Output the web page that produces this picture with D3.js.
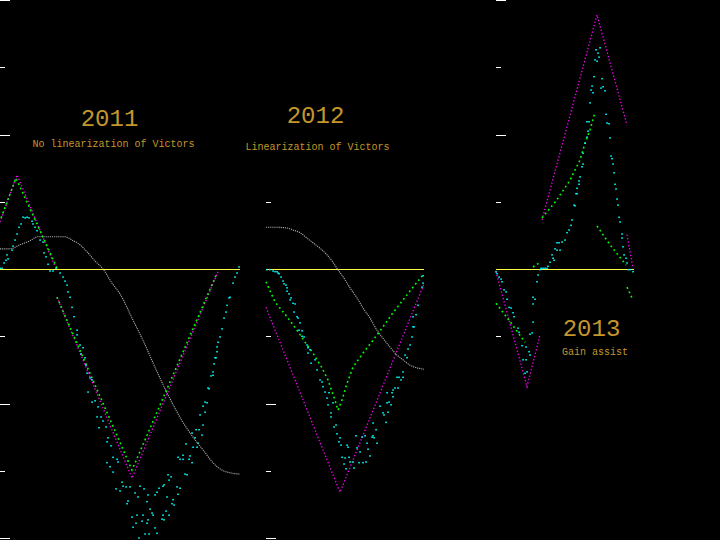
<!DOCTYPE html>
<html><head><meta charset="utf-8">
<script src="https://cdn.jsdelivr.net/npm/d3@7"></script>
<style>html,body{margin:0;padding:0;background:#000;}svg{display:block;background:#000}</style>
</head><body>
<svg id="chart" width="720" height="540"></svg>
<script>
// ---------- DATA ----------
const years = ["2011", "2012", "2013"];
const subtitles = ["No linearization of Victors", "Linearization of Victors", "Gain assist"];
const xMax = [12, 7.9, 6.9];                       // time span of each run
const tickValues = [[4,3,2,1,-1,-2,-3,-4], [1,-1,-2,-3,-4], [4,3,2,1,-1]];

// magenta reference (segments)
const magenta2011 = [[[0,0.70],[0.85,1.40],[2.75,0.04]], [[2.85,-0.42],[6.6,-3.11],[10.9,-0.04]]];
const magenta2012 = [[[0,-0.57],[3.7,-3.32],[7.9,-0.22]]];
const magenta2013 = [[[0,-0.04],[1.55,-1.75],[2.2,-0.98]], [[2.3,0.73],[5.05,3.78],[6.55,2.14]], [[6.55,0.51],[6.85,0.01]]];

// green command (segments)
const green2011 = [[[0.05,0.76],[0.8,1.35],[1.85,0.67],[2.85,0.01]], [[2.85,-0.42],[6.6,-2.99],[10.85,-0.06]]];
const green2012 = [[[0,-0.19],[0.45,-0.49],[1.05,-0.71],[1.55,-0.91],[2.05,-1.13],[2.35,-1.25],[2.8,-1.47],[3.1,-1.65],[3.45,-1.95],[3.6,-2.10],[3.8,-1.95],[4.05,-1.70],[4.35,-1.46],[4.85,-1.25],[5.35,-1.06],[5.85,-0.86],[6.35,-0.65],[6.85,-0.46],[7.35,-0.27],[7.9,-0.07]]];
const green2013 = [[[0,-0.51],[0.75,-0.80],[1.45,-1.09]], [[1.85,0.03],[2.2,0.10]], [[2.3,0.76],[3.0,1.01],[3.7,1.32],[4.2,1.62],[4.45,1.87],[4.7,2.07],[4.95,2.33]], [[5.05,0.64],[5.7,0.36],[6.5,0.06]], [[6.55,-0.27],[6.8,-0.43]]];

// gray smooth curve
const gray2011 = [[0,0.30],[0.5,0.30],[1.0,0.36],[1.5,0.42],[1.9,0.48],[3.25,0.48],[3.6,0.43],[4.0,0.36],[4.4,0.24],[4.75,0.12],[5.15,0],[5.6,-0.21],[6.0,-0.37],[6.65,-0.76],[7.15,-1.06],[7.75,-1.46],[8.4,-1.87],[9.15,-2.28],[9.65,-2.50],[10.15,-2.69],[10.65,-2.88],[11.1,-2.99],[11.5,-3.03],[12.0,-3.05]];
const gray2012 = [[0,0.62],[0.55,0.62],[1.05,0.61],[1.35,0.58],[1.7,0.54],[2.05,0.46],[2.35,0.39],[2.7,0.31],[3.05,0.21],[3.35,0.10],[3.55,0.01],[3.95,-0.16],[4.2,-0.28],[4.55,-0.43],[4.85,-0.58],[5.2,-0.73],[5.55,-0.91],[5.85,-1.03],[6.2,-1.16],[6.55,-1.28],[6.85,-1.35],[7.2,-1.43],[7.55,-1.47],[7.9,-1.49]];
const gray2013 = [];

// cyan measured samples (scatter)
const cyan2011 = [[0,0.01],[0.1,0.01],[0.2,0.09],[0.3,0.13],[0.35,0.21],[0.4,0.15],[0.6,0.28],[0.65,0.34],[0.75,0.43],[0.85,0.52],[0.95,0.62],[1.05,0.67],[1.15,0.77],[1.25,0.76],[1.35,0.77],[1.45,0.76],[1.6,0.71],[1.65,0.67],[1.75,0.62],[1.85,0.57],[2.0,0.43],[2.15,0.40],[2.2,0.24],[2.3,0.18],[2.4,0.07],[2.5,-0.03],[2.65,-0.03],[2.8,0.01],[3.0,-0.06],[3.15,-0.12],[3.25,-0.18],[3.35,-0.24],[3.4,-0.34],[3.5,-0.42],[3.6,-0.57],[3.7,-0.71],[3.85,-0.91],[3.85,-0.98],[4.0,-1.13],[4.05,-1.26],[4.15,-1.17],[4.25,-1.32],[4.3,-1.43],[4.35,-1.55],[4.5,-1.62],[4.6,-1.65],[4.4,-1.83],[4.75,-1.96],[4.6,-1.98],[4.9,-2.05],[5.05,-2.20],[4.85,-2.20],[5.15,-2.26],[4.95,-2.36],[5.3,-2.35],[5.4,-2.51],[5.35,-2.57],[5.55,-2.63],[5.65,-2.80],[5.35,-2.88],[5.5,-2.94],[5.65,-3.02],[5.85,-2.83],[5.9,-2.87],[6.1,-3.17],[6.15,-3.23],[6.3,-3.24],[5.8,-3.27],[6.0,-3.30],[6.5,-3.24],[6.4,-3.45],[6.35,-3.49],[6.6,-3.69],[6.75,-3.33],[6.9,-3.39],[7.0,-3.23],[7.2,-3.27],[7.4,-3.36],[7.75,-3.36],[7.85,-3.32],[7.95,-3.26],[8.15,-3.23],[8.2,-3.21],[8.35,-3.39],[8.45,-3.14],[8.4,-3.06],[8.55,-3.09],[8.65,-3.43],[8.6,-3.49],[8.7,-3.51],[8.85,-3.24],[9.0,-3.26],[8.9,-3.35],[8.9,-2.80],[9.0,-2.83],[9.15,-2.77],[9.15,-2.83],[9.3,-2.60],[9.25,-3.05],[9.35,-3.06],[9.5,-2.78],[9.45,-2.83],[9.6,-2.88],[7.35,-3.46],[7.5,-3.57],[7.6,-3.63],[7.65,-3.66],[7.4,-3.73],[7.15,-3.66],[6.85,-3.66],[7.1,-3.75],[6.8,-3.78],[6.65,-3.84],[7.35,-3.78],[7.75,-3.85],[7.85,-3.93],[7.45,-3.94],[7.25,-3.94],[6.95,-4.00],[8.15,-3.66],[8.3,-3.60],[8.45,-3.66],[8.2,-3.73],[8.1,-3.72],[9.6,-2.44],[9.75,-2.51],[9.8,-2.39],[9.95,-2.39],[10.1,-2.47],[9.65,-2.65],[9.85,-2.65],[9.9,-2.59],[10.0,-2.17],[10.15,-2.32],[10.25,-2.13],[10.15,-2.04],[10.25,-1.98],[10.35,-1.99],[10.4,-1.77],[10.45,-1.78],[10.55,-1.59],[10.65,-1.58],[10.65,-1.53],[10.7,-1.41],[10.75,-1.32],[10.8,-1.32],[10.85,-1.23],[10.85,-1.16],[10.9,-1.09],[11.0,-1.01],[11.1,-0.89],[11.2,-0.73],[11.3,-0.64],[11.35,-0.54],[11.45,-0.43],[11.5,-0.42],[11.65,-0.21],[11.75,-0.12],[11.85,-0.06],[11.95,0.03]];
const cyan2012 = [[0.05,-0.01],[0.2,-0.01],[0.35,-0.03],[0.45,-0.04],[0.55,-0.04],[0.6,-0.06],[0.65,-0.07],[0.75,-0.12],[0.85,-0.18],[0.9,-0.22],[1.0,-0.24],[1.05,-0.28],[1.05,-0.33],[1.15,-0.37],[1.25,-0.43],[1.2,-0.46],[1.35,-0.51],[1.45,-0.52],[1.4,-0.64],[1.55,-0.71],[1.6,-0.73],[1.7,-0.80],[1.65,-0.91],[1.8,-0.92],[1.8,-1.00],[1.9,-1.01],[2.05,-1.13],[2.1,-1.17],[2.2,-1.20],[2.1,-1.25],[2.25,-1.40],[2.45,-1.35],[2.55,-1.50],[2.7,-1.65],[2.8,-1.68],[2.85,-1.75],[2.95,-1.83],[3.05,-1.92],[3.15,-1.84],[3.1,-2.02],[3.35,-1.99],[3.25,-2.14],[3.25,-2.20],[3.4,-2.35],[3.5,-2.32],[3.55,-2.45],[3.65,-2.57],[3.75,-2.62],[3.7,-2.51],[4.05,-2.62],[4.1,-2.65],[3.8,-2.80],[3.95,-2.81],[4.15,-2.80],[3.9,-2.90],[4.0,-2.97],[4.2,-2.87],[4.35,-2.87],[4.4,-2.96],[4.5,-2.48],[4.55,-2.66],[4.7,-2.72],[4.65,-2.88],[4.85,-2.88],[5.0,-2.87],[4.8,-2.50],[4.95,-2.48],[5.1,-2.68],[5.2,-2.78],[5.05,-2.59],[5.3,-2.50],[5.35,-2.29],[5.35,-2.48],[5.5,-2.39],[5.4,-2.51],[5.55,-2.59],[5.7,-2.04],[5.85,-2.14],[5.9,-2.17],[6.0,-2.28],[6.1,-2.13],[6.05,-1.99],[6.15,-1.98],[6.25,-2.02],[6.05,-1.84],[6.3,-1.84],[6.35,-1.80],[6.45,-1.77],[6.6,-1.77],[6.35,-1.90],[6.55,-1.61],[6.65,-1.61],[6.85,-1.61],[6.75,-1.65],[6.85,-1.53],[6.95,-1.28],[7.05,-1.32],[7.2,-1.13],[7.1,-1.19],[7.3,-1.01],[7.35,-0.86],[7.4,-0.86],[7.35,-0.71],[7.5,-0.68],[7.6,-0.54],[7.8,-0.27],[7.85,-0.21],[7.85,-0.10]];
const cyan2013 = [[0,-0.04],[0.05,-0.07],[0.15,-0.12],[0.25,-0.15],[0.3,-0.19],[0.4,-0.31],[0.5,-0.34],[0.55,-0.45],[0.65,-0.57],[0.75,-0.58],[0.85,-0.65],[0.9,-0.71],[1.1,-0.88],[1.15,-0.94],[1.3,-1.14],[1.5,-1.16],[1.65,-1.23],[1.7,-1.28],[1.35,-1.35],[1.5,-1.35],[1.45,-1.55],[1.55,-1.53],[1.7,-0.97],[1.8,-0.95],[1.85,-0.79],[1.85,-0.52],[1.85,-0.42],[1.95,-0.45],[2.05,-0.19],[2.1,-0.09],[2.2,-0.01],[2.25,0.01],[2.35,0.01],[2.45,0.01],[2.55,0.01],[2.6,0.04],[2.7,0.10],[2.8,0.21],[2.85,0.16],[2.9,0.13],[2.95,0.30],[3.05,0.28],[3.05,0.39],[3.15,0.39],[3.2,0.28],[3.3,0.40],[3.45,0.43],[3.55,0.54],[3.65,0.58],[3.75,0.65],[3.8,0.73],[3.9,0.95],[3.95,0.94],[4.0,1.12],[4.05,1.12],[4.05,1.20],[4.15,1.26],[4.15,1.31],[4.2,1.37],[4.3,1.52],[4.35,1.56],[4.35,1.72],[4.45,1.87],[4.55,1.96],[4.6,2.05],[4.55,2.19],[4.65,2.19],[4.7,2.47],[4.75,2.66],[4.85,2.62],[4.8,2.72],[4.9,2.86],[4.95,3.11],[5.05,3.09],[5.0,3.26],[5.1,3.21],[5.15,3.15],[5.2,3.29],[5.25,2.69],[5.3,2.83],[5.35,2.71],[5.45,2.65],[5.5,2.30],[5.55,2.17],[5.65,2.16],[5.7,1.95],[5.75,1.68],[5.8,1.64],[5.85,1.56],[5.9,1.43],[5.95,1.26],[6.0,1.19],[6.05,1.04],[6.1,0.95],[6.15,0.77],[6.2,0.70],[6.3,0.52],[6.3,0.46],[6.35,0.33],[6.4,0.21],[6.5,0.16],[6.55,0.09],[6.6,-0.01],[6.7,-0.01],[6.85,-0.04]];

const magentaSeries = [magenta2011, magenta2012, magenta2013];
const greenSeries = [green2011, green2012, green2013];
const graySeries = [gray2011, gray2012, gray2013];
const cyanSeries = [cyan2011, cyan2012, cyan2013];

// ---------- LAYOUT ----------
const W = 720, H = 540;
const panelRanges = [[0, 240], [266, 424], [496, 634]];
const titlePos = [[109.5, 126, 113.5, 146.5], [315.5, 123, 317.5, 150], [591.5, 336, 595, 355]];
const textColor = "#c4962c";

const svg = d3.select("#chart");
svg.append("rect").attr("width", W).attr("height", H).attr("fill", "#000");

const y = d3.scaleLinear().domain([-4, 4]).range([538, 0]);

panelRanges.forEach((rng, i) => {
  const x = d3.scaleLinear().domain([0, xMax[i]]).range(rng);
  const g = svg.append("g");

  // tick marks on the left edge
  g.selectAll("line.tick").data(tickValues[i]).join("line")
    .attr("x1", x(0)).attr("x2", d => x(0) + (d % 2 === 0 ? 10 : 5))
    .attr("y1", d => Math.round(y(d)) + 0.5).attr("y2", d => Math.round(y(d)) + 0.5)
    .attr("stroke", "#fff").attr("stroke-width", 1).attr("shape-rendering", "crispEdges");

  // zero line
  g.append("line")
    .attr("x1", x(0)).attr("x2", x(xMax[i]))
    .attr("y1", Math.round(y(0)) + 0.5).attr("y2", Math.round(y(0)) + 0.5)
    .attr("stroke", "#ffff40").attr("stroke-width", 1).attr("shape-rendering", "crispEdges");

  const line = d3.line().x(d => x(d[0])).y(d => y(d[1]));
  const smooth = d3.line().x(d => x(d[0])).y(d => y(d[1])).curve(d3.curveMonotoneX);

  // gray curve
  if (graySeries[i].length) {
    g.append("path").datum(graySeries[i]).attr("d", smooth)
      .attr("fill", "none").attr("stroke", "#a8a8a8").attr("stroke-width", 1.1)
      .attr("stroke-dasharray", "1.2,0.9");
  }
  // magenta
  g.selectAll("path.mag").data(magentaSeries[i]).join("path").attr("class", "mag")
    .attr("d", line).attr("fill", "none").attr("stroke", "#ff00ff")
    .attr("stroke-width", 1.3).attr("stroke-dasharray", "1.3,2.1");
  // green
  g.selectAll("path.grn").data(greenSeries[i]).join("path").attr("class", "grn")
    .attr("d", line).attr("fill", "none").attr("stroke", "#00ff00")
    .attr("stroke-width", 1.6).attr("stroke-dasharray", "1.8,3");
  // cyan samples
  g.selectAll("rect.cy").data(cyanSeries[i]).join("rect").attr("class", "cy")
    .attr("x", d => x(d[0]) - 0.75).attr("y", d => y(d[1]) - 0.75)
    .attr("width", 1.6).attr("height", 1.5).attr("fill", "#00ffff");

  // titles
  const tp = titlePos[i];
  svg.append("text").attr("x", tp[0]).attr("y", tp[1]).attr("text-anchor", "middle")
    .attr("font-family", "'Liberation Mono', 'DejaVu Sans Mono', monospace")
    .attr("font-size", 24).attr("fill", textColor).text(years[i]);
  svg.append("text").attr("x", tp[2]).attr("y", tp[3]).attr("text-anchor", "middle")
    .attr("font-family", "'Liberation Mono', 'DejaVu Sans Mono', monospace")
    .attr("font-size", 10).attr("fill", textColor).text(subtitles[i]);
});
</script>
</body></html>
